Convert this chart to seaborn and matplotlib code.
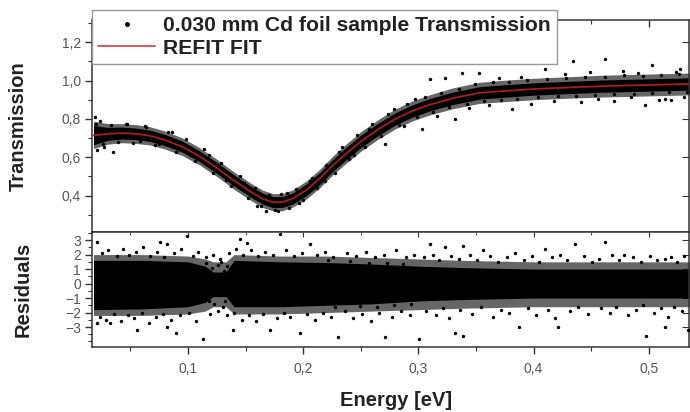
import numpy as np
import matplotlib
matplotlib.use("Agg")
import matplotlib.pyplot as plt
from matplotlib.lines import Line2D
from matplotlib.ticker import MultipleLocator, FixedLocator, FuncFormatter
import seaborn as sns

# fit curve and dense core of the transmission data
energy = [0.018, 0.030, 0.043, 0.055, 0.067, 0.080, 0.095, 0.110, 0.125, 0.140, 0.155, 0.165,
          0.174, 0.182, 0.191, 0.203, 0.215, 0.225, 0.236, 0.250, 0.265, 0.280, 0.295, 0.310,
          0.330, 0.353, 0.375, 0.400, 0.430, 0.460, 0.500, 0.540]
fit = [0.714, 0.722, 0.726, 0.722, 0.712, 0.690, 0.655, 0.605, 0.545, 0.478, 0.418, 0.383,
       0.365, 0.366, 0.385, 0.430, 0.492, 0.553, 0.612, 0.682, 0.745, 0.800, 0.842, 0.874,
       0.908, 0.936, 0.946, 0.956, 0.964, 0.971, 0.977, 0.983]
trans_lo = [0.665, 0.688, 0.695, 0.692, 0.683, 0.661, 0.627, 0.577, 0.517, 0.450, 0.390, 0.355,
            0.337, 0.338, 0.356, 0.400, 0.461, 0.522, 0.580, 0.650, 0.713, 0.768, 0.810, 0.842,
            0.875, 0.903, 0.913, 0.924, 0.932, 0.939, 0.945, 0.951]
trans_hi = [0.765, 0.756, 0.757, 0.752, 0.741, 0.719, 0.684, 0.633, 0.573, 0.507, 0.447, 0.412,
            0.394, 0.395, 0.414, 0.461, 0.523, 0.584, 0.644, 0.714, 0.777, 0.832, 0.874, 0.906,
            0.940, 0.968, 0.978, 0.988, 0.996, 1.003, 1.009, 1.015]
# looser fringe of points around the core
trans_fringe_lo = [0.645, 0.668, 0.676, 0.672, 0.664, 0.643, 0.609, 0.560, 0.500, 0.433, 0.373,
                   0.338, 0.320, 0.321, 0.340, 0.383, 0.444, 0.504, 0.562, 0.631, 0.694, 0.748,
                   0.790, 0.821, 0.853, 0.881, 0.890, 0.900, 0.908, 0.914, 0.920, 0.926]
trans_fringe_hi = [0.788, 0.776, 0.775, 0.770, 0.759, 0.737, 0.701, 0.650, 0.590, 0.523, 0.463,
                   0.428, 0.410, 0.411, 0.430, 0.477, 0.540, 0.602, 0.662, 0.733, 0.796, 0.852,
                   0.894, 0.926, 0.962, 0.991, 1.002, 1.012, 1.020, 1.028, 1.034, 1.040]

# transmission points around and outside the dense core
trans_points = [(0.019, 0.81), (0.021, 0.64), (0.024, 0.79), (0.027, 0.655), (0.035, 0.626),
                (0.046, 0.775), (0.052, 0.675), (0.063, 0.762), (0.071, 0.662), (0.086, 0.734),
                (0.102, 0.612), (0.118, 0.612), (0.133, 0.482), (0.149, 0.468), (0.160, 0.345),
                (0.168, 0.318), (0.178, 0.322), (0.186, 0.415), (0.196, 0.360), (0.208, 0.490),
                (0.219, 0.478), (0.231, 0.625), (0.244, 0.610), (0.257, 0.746), (0.271, 0.668),
                (0.279, 0.852), (0.288, 0.765), (0.297, 0.905), (0.303, 0.747), (0.310, 1.010),
                (0.316, 0.815), (0.323, 1.016), (0.332, 0.800), (0.338, 1.037), (0.344, 0.855),
                (0.353, 1.040), (0.361, 0.870), (0.370, 1.012), (0.381, 0.853), (0.389, 1.020),
                (0.398, 0.880), (0.410, 1.060), (0.418, 0.895), (0.427, 1.035), (0.434, 1.100),
                (0.441, 0.890), (0.449, 1.045), (0.456, 0.905), (0.462, 1.110), (0.470, 0.895),
                (0.478, 1.050), (0.485, 0.912), (0.491, 1.040), (0.497, 0.874), (0.503, 1.080),
                (0.509, 0.900), (0.514, 0.905), (0.519, 0.900), (0.524, 1.045), (0.527, 1.060),
                (0.531, 0.915),
                (0.020, 0.775), (0.026, 0.668), (0.033, 0.770), (0.039, 0.678), (0.047, 0.772),
                (0.058, 0.684), (0.064, 0.760), (0.075, 0.668), (0.083, 0.733), (0.090, 0.628),
                (0.098, 0.695), (0.106, 0.578), (0.114, 0.642), (0.122, 0.518), (0.129, 0.570),
                (0.137, 0.448), (0.145, 0.500), (0.152, 0.386), (0.158, 0.438), (0.163, 0.348),
                (0.170, 0.405), (0.176, 0.326), (0.181, 0.410), (0.188, 0.333), (0.194, 0.432),
                (0.200, 0.378), (0.206, 0.478), (0.212, 0.438), (0.220, 0.560), (0.228, 0.520),
                (0.234, 0.652), (0.240, 0.590), (0.247, 0.716), (0.254, 0.652), (0.260, 0.775),
                (0.268, 0.712), (0.274, 0.825), (0.283, 0.768), (0.290, 0.878), (0.299, 0.812),
                (0.306, 0.912), (0.313, 0.838), (0.320, 0.935), (0.327, 0.862), (0.335, 0.958),
                (0.342, 0.880), (0.349, 0.980), (0.357, 0.893), (0.365, 0.992), (0.372, 0.900),
                (0.379, 0.995), (0.386, 0.906), (0.394, 1.003), (0.404, 0.912), (0.412, 1.008),
                (0.421, 0.918), (0.428, 1.012), (0.437, 0.922), (0.445, 1.020), (0.453, 0.925),
                (0.462, 1.020), (0.470, 0.930), (0.479, 1.028), (0.487, 0.930), (0.495, 1.025),
                (0.503, 0.935), (0.511, 1.030), (0.518, 0.938), (0.526, 1.032), (0.533, 0.940)]

# residuals: solid core of the band and a looser fringe
res_energy = [0.018, 0.060, 0.100, 0.115, 0.122, 0.133, 0.140, 0.180, 0.220, 0.260, 0.300,
              0.340, 0.400, 0.460, 0.540]
res_lo = [-1.8, -1.75, -1.6, -1.3, -0.9, -0.9, -1.6, -1.6, -1.5, -1.4, -1.2, -1.1, -1.0, -1.0, -1.0]
res_hi = [1.6, 1.6, 1.5, 1.2, 0.8, 0.8, 1.6, 1.5, 1.45, 1.35, 1.2, 1.1, 1.0, 1.0, 1.0]
res_fringe_lo = [-2.2, -2.2, -2.1, -1.9, -1.6, -1.6, -2.1, -2.1, -2.0, -1.9, -1.8, -1.7, -1.6,
                 -1.6, -1.6]
res_fringe_hi = [2.0, 2.0, 1.9, 1.7, 1.5, 1.5, 2.0, 1.9, 1.9, 1.8, 1.7, 1.6, 1.5, 1.5, 1.5]

res_points = [(0.021, 2.9), (0.076, 2.9), (0.082, 2.7), (0.099, 3.3), (0.145, 3.1), (0.151, 2.8),
              (0.180, 3.4), (0.206, 2.7), (0.021, -2.7), (0.032, -2.7), (0.056, -3.2), (0.082, -3.0),
              (0.090, -3.4), (0.113, -3.8), (0.139, -3.2), (0.171, -3.2), (0.197, -3.4), (0.230, -3.7),
              (0.310, 2.7), (0.323, 2.5), (0.339, 2.6), (0.356, 2.3), (0.410, 2.4), (0.436, 2.7),
              (0.462, 2.9), (0.479, 2.0), (0.514, 1.7), (0.271, -3.7), (0.301, -3.8), (0.332, -3.4),
              (0.339, -3.6), (0.387, -3.0), (0.421, -3.0), (0.498, -3.6), (0.514, -3.0), (0.534, -3.2),
              (0.025, 2.1), (0.031, 2.3), (0.038, 1.9), (0.044, 2.4), (0.049, 2.0), (0.055, 2.2),
              (0.061, 2.5), (0.067, 1.9), (0.073, 2.2), (0.079, 1.8), (0.088, 2.1), (0.094, 2.4),
              (0.104, 1.9), (0.109, 2.2), (0.116, 1.8), (0.122, 2.0), (0.128, 1.7),
              (0.024, -2.3), (0.029, -2.5), (0.036, -2.1), (0.042, -2.6), (0.048, -2.2), (0.053, -2.4),
              (0.060, -2.0), (0.066, -2.7), (0.072, -2.3), (0.078, -2.1), (0.085, -2.5), (0.093, -2.2),
              (0.101, -2.0), (0.107, -2.6), (0.119, -2.1), (0.126, -1.9),
              (0.136, 2.1), (0.142, 2.4), (0.148, 2.0), (0.155, 2.3), (0.161, 1.9), (0.167, 2.2),
              (0.174, 2.0), (0.185, 2.3), (0.192, 1.9), (0.199, 2.1), (0.212, 2.0), (0.219, 2.2),
              (0.226, 1.8), (0.238, 2.1), (0.246, 1.9), (0.255, 2.2), (0.262, 1.8), (0.270, 2.0),
              (0.281, 2.3), (0.289, 1.8), (0.296, 2.0),
              (0.134, -2.2), (0.140, -2.0), (0.147, -2.5), (0.153, -2.2), (0.159, -2.6), (0.165, -2.1),
              (0.177, -2.4), (0.183, -2.0), (0.189, -2.3), (0.203, -2.1), (0.210, -2.5), (0.217, -2.0),
              (0.224, -2.3), (0.236, -1.9), (0.243, -2.4), (0.251, -2.1), (0.259, -2.6), (0.266, -2.0),
              (0.277, -2.3), (0.285, -1.9), (0.293, -2.2),
              (0.305, 1.8), (0.313, 2.0), (0.318, 1.6), (0.328, 1.9), (0.335, 1.7), (0.345, 2.0),
              (0.351, 1.6), (0.362, 1.9), (0.369, 1.5), (0.377, 1.8), (0.384, 2.1), (0.392, 1.6),
              (0.399, 1.9), (0.405, 1.5), (0.416, 1.8), (0.423, 2.0), (0.429, 1.6), (0.444, 1.9),
              (0.451, 1.5), (0.457, 1.7), (0.468, 2.0), (0.474, 1.6), (0.486, 1.8), (0.493, 1.5),
              (0.501, 1.9), (0.507, 1.6), (0.519, 1.8), (0.525, 1.5), (0.531, 1.9),
              (0.307, -1.9), (0.315, -2.2), (0.321, -1.7), (0.327, -2.4), (0.336, -1.8), (0.347, -2.1),
              (0.354, -1.6), (0.365, -2.3), (0.372, -1.8), (0.379, -2.0), (0.395, -1.7), (0.402, -2.2),
              (0.413, -1.8), (0.419, -2.4), (0.432, -1.9), (0.439, -1.6), (0.447, -2.1), (0.459, -1.7),
              (0.466, -2.0), (0.472, -1.6), (0.482, -2.2), (0.489, -1.8), (0.495, -1.5), (0.505, -2.0),
              (0.511, -1.7), (0.517, -2.3), (0.522, -1.6), (0.529, -1.9),
              (0.222, 1.6), (0.228, -1.6), (0.241, 1.55), (0.249, -1.55), (0.257, 1.45), (0.264, -1.6),
              (0.273, 1.45), (0.279, -1.45), (0.287, 1.35), (0.294, -1.4),
              (0.116, 1.4), (0.118, -1.2), (0.120, 0.0), (0.121, 1.1), (0.123, -1.4), (0.124, 0.6),
              (0.126, 1.3), (0.127, -0.8), (0.129, 1.5), (0.130, -1.6), (0.131, 0.9), (0.132, -1.2),
              (0.134, 1.2)]

sns.set_style("ticks")
plt.rcParams["font.family"] = ["Liberation Sans", "DejaVu Sans"]

W, H = 690, 412
fig = plt.figure(figsize=(W / 100, H / 100), dpi=100)
ax1 = fig.add_axes([92 / W, 1 - 232 / H, 597 / W, 212 / H])
ax2 = fig.add_axes([92 / W, 1 - 347 / H, 597 / W, 115 / H])

comma = FuncFormatter(lambda v, p: f"{v:.1f}".replace(".", ","))

# top panel
ax1.fill_between(energy, trans_fringe_lo, trans_fringe_hi, color="black", alpha=0.6, lw=0, zorder=2)
ax1.fill_between(energy, trans_lo, trans_hi, color="black", lw=0, zorder=2)
pe, pv = zip(*trans_points)
sns.scatterplot(x=list(pe), y=list(pv), ax=ax1, color="black", s=6, linewidth=0, zorder=3)
sns.lineplot(x=energy, y=fit, ax=ax1, color="#a81c1c", lw=1.3, zorder=4)
ax1.set_xlim(0.0167, 0.535)
ax1.set_ylim(0.21, 1.316)
ax1.yaxis.set_major_locator(MultipleLocator(0.2))
ax1.yaxis.set_minor_locator(MultipleLocator(0.1))
ax1.yaxis.set_major_formatter(comma)
ax1.xaxis.set_major_locator(MultipleLocator(0.1))
ax1.xaxis.set_minor_locator(MultipleLocator(0.05))
ax1.tick_params(axis="x", which="both", direction="in", bottom=False, top=True,
                labelbottom=False)
ax1.set_ylabel("Transmission", fontsize=14.5, fontweight="bold", color="#222222")
ax1.yaxis.set_label_coords(-0.108, 0.5)

# bottom panel
ax2.fill_between(res_energy, res_fringe_lo, res_fringe_hi, color="black", alpha=0.6, lw=0, zorder=2)
ax2.fill_between(res_energy, res_lo, res_hi, color="black", lw=0, zorder=2)
re, rv = zip(*res_points)
sns.scatterplot(x=list(re), y=list(rv), ax=ax2, color="black", s=6, linewidth=0, zorder=3)
ax2.set_xlim(0.0167, 0.535)
ax2.set_ylim(-4.38, 3.56)
ax2.yaxis.set_major_locator(FixedLocator([-3, -2, -1, 0, 1, 2, 3]))
ax2.yaxis.set_minor_locator(MultipleLocator(0.5))
ax2.xaxis.set_major_locator(MultipleLocator(0.1))
ax2.xaxis.set_minor_locator(MultipleLocator(0.05))
ax2.xaxis.set_major_formatter(comma)
ax2.set_ylabel("Residuals", fontsize=14.5, fontweight="bold", color="#222222")
ax2.yaxis.set_label_coords(-0.099, 0.5)
ax2.set_xlabel("Energy [eV]", fontsize=14.5, fontweight="bold", color="#222222")
ax2.xaxis.set_label_coords(0.51, -0.38)

for ax in (ax1, ax2):
    for sp in ax.spines.values():
        sp.set_color("#333333")
        sp.set_linewidth(1.1)
    ax.tick_params(which="major", length=5, width=1, color="#333333", labelsize=10,
                   labelcolor="#555555", pad=3)
    ax.tick_params(which="minor", length=3, width=0.8, color="#333333")
    ax.tick_params(axis="y", which="both", direction="out")
    sec_r = ax.secondary_yaxis("right")
    sec_r.yaxis.set_major_locator(ax.yaxis.get_major_locator())
    sec_r.tick_params(direction="in", labelright=False, length=5, color="#333333")
    sec_r.spines["right"].set_visible(False)
ax2.tick_params(axis="x", which="both", direction="out", pad=6)
sec_t = ax2.secondary_xaxis("top")
sec_t.xaxis.set_major_locator(MultipleLocator(0.1))
sec_t.xaxis.set_minor_locator(MultipleLocator(0.05))
sec_t.tick_params(which="both", direction="in", labeltop=False, color="#333333")
sec_t.spines["top"].set_visible(False)

handles = [Line2D([], [], ls="none", marker="o", ms=2.5, color="black"),
           Line2D([], [], color="#e04848", lw=1.3)]
labels = ["0.030 mm Cd foil sample Transmission", "REFIT FIT"]
leg = ax1.legend(handles, labels, loc="upper left", bbox_to_anchor=(92 / W, 1 - 10 / H),
                 bbox_transform=fig.transFigure, borderaxespad=0, fancybox=False, framealpha=1,
                 edgecolor="#999999", prop={"weight": "bold", "size": 15.2}, handlelength=2.7,
                 handletextpad=0.35, borderpad=0.3, labelspacing=0.15, numpoints=1)
leg.get_frame().set_linewidth(1.0)
for t in leg.get_texts():
    t.set_color("#222222")

fig.savefig("out.png", dpi=100)
